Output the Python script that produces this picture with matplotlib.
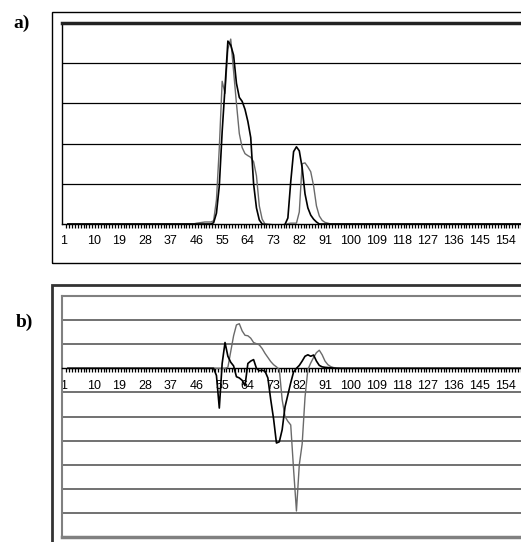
import matplotlib
matplotlib.use('Agg')
import matplotlib.pyplot as plt
from matplotlib.patches import Rectangle
import numpy as np

plt.rcParams['font.family'] = ['Liberation Sans', 'DejaVu Sans']

# categories 1..164 (Excel-like line chart, x = category number)
n_cat = 164
cats = np.arange(1, n_cat + 1)
tick_labels = ['1', '10', '19', '28', '37', '46', '55', '64', '73', '82', '91',
               '100', '109', '118', '127', '136', '145', '154']

# panel a) values, categories 45..95 (zero elsewhere)
a_black_mid = [0.0, 0.0, 0.0, 0.0, 0.0, 0.0, 0.0, 0.03, 0.27, 0.95,   # 45-54
               2.3, 3.4, 4.55, 4.45, 4.2, 3.5, 3.15, 3.05, 2.85, 2.55,  # 55-64
               2.15, 1.0, 0.4, 0.1, 0.0, -0.01, -0.02, -0.02, -0.03, -0.03,  # 65-74
               -0.03, -0.03, -0.01, 0.15, 1.05, 1.8, 1.92, 1.82, 1.4, 0.75,  # 75-84
               0.4, 0.22, 0.12, 0.05, 0.0, 0.0, 0.0, 0.0, 0.0, 0.0, 0.0]   # 85-95
a_gray_mid = [0.0, 0.02, 0.03, 0.04, 0.05, 0.05, 0.05, 0.08, 0.6, 1.9,   # 45-54
              3.55, 3.25, 4.35, 4.6, 3.8, 3.0, 2.25, 1.9, 1.75, 1.7,     # 55-64
              1.66, 1.55, 1.2, 0.45, 0.12, 0.0, 0.0, -0.01, -0.02, -0.03,  # 65-74
              -0.03, -0.03, -0.02, 0.01, 0.02, 0.02, 0.02, 0.3, 1.5, 1.52,  # 75-84
              1.42, 1.3, 0.95, 0.45, 0.2, 0.09, 0.04, 0.02, 0.0, 0.0, 0.0]  # 85-95

# panel b) values, categories 45..100 (zero elsewhere)
b_black_mid = [0.0, 0.0, 0.0, 0.0, 0.0, 0.0, 0.0, 0.0, -0.3, -1.65,     # 45-54
               0.2, 1.07, 0.5, 0.25, 0.1, -0.35, -0.4, -0.5, -0.72, 0.2,  # 55-64
               0.3, 0.36, 0.0, -0.1, -0.08, -0.12, -0.4, -1.3, -2.1, -3.1,  # 65-74
               -3.05, -2.55, -1.6, -1.1, -0.6, -0.15, 0.0, 0.12, 0.3, 0.5,  # 75-84
               0.56, 0.5, 0.55, 0.3, 0.12, 0.06, 0.04, 0.03, 0.02, 0.01,  # 85-94
               0.0, 0.0, 0.0, 0.0, 0.0, 0.0]                              # 95-100
b_gray_mid = [0.0, 0.0, 0.0, 0.0, 0.0, 0.0, 0.0, 0.0, 0.0, 0.0,          # 45-54
              0.0, 0.0, 0.04, 0.7, 1.35, 1.8, 1.85, 1.55, 1.37, 1.35,     # 55-64
              1.25, 1.07, 1.02, 0.97, 0.82, 0.62, 0.45, 0.28, 0.15, 0.06,  # 65-74
              -0.05, -1.3, -2.0, -2.2, -2.35, -4.2, -5.92, -4.0, -3.14, -1.2,  # 75-84
              -0.05, 0.22, 0.45, 0.65, 0.75, 0.56, 0.3, 0.15, 0.07, 0.03,  # 85-94
              0.02, 0.01, 0.0, 0.0, 0.0, 0.0]                              # 95-100


def pad(mid, start):
    out = np.zeros(n_cat)
    out[start - 1:start - 1 + len(mid)] = mid
    return out


a_black = pad(a_black_mid, 45)
a_gray = pad(a_gray_mid, 45)
b_black = pad(b_black_mid, 45)
b_gray = pad(b_gray_mid, 45)

W, H = 521, 542
fig = plt.figure(figsize=(W / 100, H / 100), dpi=100)


def fx(px):
    return px / W


def fy(py):
    return 1 - py / H


xl = (-1.06, 164.3)
x_right = 535
label_pos = [-0.6] + [int(t) for t in tick_labels[1:]]


def setup_xaxis(ax, pad_pt):
    ax.set_xlim(*xl)
    ax.set_xticks(label_pos)
    ax.set_xticklabels(tick_labels, fontsize=9)
    ax.tick_params(axis='x', which='major', length=0, pad=pad_pt)
    ax.set_xticks(np.arange(0.5, n_cat + 1, 1.0), minor=True)
    ax.tick_params(axis='x', which='minor', length=3, width=0.9, direction='out', color='black')
    ax.set_yticks([])


# ---- panel a) ----
fig.add_artist(Rectangle((fx(52), fy(263)), fx(560) - fx(52), fy(12) - fy(263),
                         transform=fig.transFigure, fill=False, lw=1.0, ec='black'))
axa = fig.add_axes([fx(62), fy(224), fx(x_right) - fx(62), fy(23) - fy(224)])
axa.set_ylim(0, 5)
for g in [1, 2, 3, 4]:
    axa.axhline(g, color='black', lw=0.9, zorder=1)
axa.plot(cats, a_gray, color='#6a6a6a', lw=1.0, zorder=3)
axa.plot(cats, a_black, color='black', lw=1.2, zorder=4)
axa.spines['right'].set_visible(False)
axa.spines['top'].set_linewidth(2.5)
axa.spines['top'].set_color('#222222')
axa.spines['left'].set_linewidth(1.0)
axa.spines['bottom'].set_linewidth(1.0)
setup_xaxis(axa, 8.0)
fig.text(fx(22), fy(23), 'a)', fontsize=14, fontweight='bold', family='Liberation Serif',
         ha='center', va='center')

# ---- panel b) ----
fig.add_artist(Rectangle((fx(52), fy(560)), fx(560) - fx(52), fy(285) - fy(560),
                         transform=fig.transFigure, fill=False, lw=2.0, ec='#333333'))
axb = fig.add_axes([fx(62), fy(537), fx(x_right) - fx(62), fy(296) - fy(537)])
axb.set_ylim(-7, 3)
for g in [2, 1, -1, -2, -3, -4, -5, -6]:
    axb.axhline(g, color='#4a4a4a', lw=1.1, zorder=1)
axb.plot(cats, b_gray, color='#6a6a6a', lw=1.0, zorder=3)
axb.plot(cats, b_black, color='black', lw=1.2, zorder=4)
for s in ['top', 'left', 'right']:
    axb.spines[s].set_color('#808080')
    axb.spines[s].set_linewidth(1.5)
axb.spines['bottom'].set_position(('data', 0))
axb.spines['bottom'].set_color('black')
axb.spines['bottom'].set_linewidth(1.0)
axb.axhline(-7, color='#808080', lw=2.5, zorder=5, clip_on=False)
setup_xaxis(axb, 8.3)
fig.text(fx(24), fy(322), 'b)', fontsize=14, fontweight='bold', family='Liberation Serif',
         ha='center', va='center')

fig.savefig('out.png', dpi=100)
